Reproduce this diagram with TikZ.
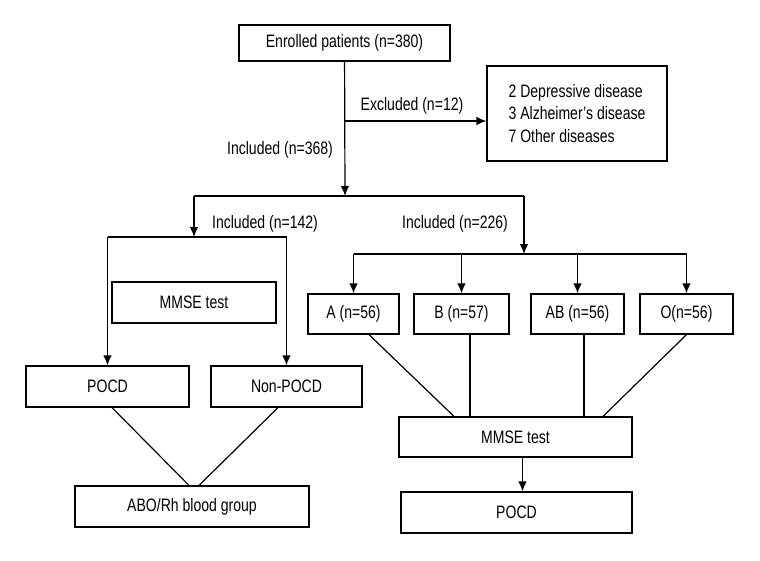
\documentclass[tikz,border=0pt]{standalone}
\usepackage{fontspec}
\setmainfont{Liberation Sans}[FakeStretch=0.78]
\usetikzlibrary{arrows.meta}

\tikzset{
  box/.style={draw, line width=1.2pt, inner sep=2pt, minimum height=41pt, font=\fontsize{18}{22.7}\selectfont},
  label/.style={font=\fontsize{18}{22.7}\selectfont, inner sep=1pt},
  conn/.style={line width=1.2pt},
  arrow/.style={conn, -{Latex[length=10pt,width=8.5pt]}}
}

\begin{document}
\begin{tikzpicture}[x=1pt, y=-1pt]
  \useasboundingbox (0,0) rectangle (760,560);

  % Enrollment and exclusion
  \node[box, minimum width=211pt, minimum height=36pt] (enrolled) at (344.5,43) {Enrolled patients (n=380)};
  \node[box, minimum width=180pt, minimum height=95pt, align=left] (excluded) at (577,113.5) {2 Depressive disease\\3 Alzheimer's disease\\7 Other diseases};

  \coordinate (exc) at (345,121);
  \coordinate (split) at (345,196);
  \coordinate (left) at (194,196);
  \coordinate (right) at (524,196);

  \draw[arrow] (enrolled) -- (split);
  \draw[arrow] (exc) -- (excluded.west |- exc);
  \node[label] (exclabel) at (412,106) {Excluded (n=12)};
  \node[label] (inclabel) at (280,150) {Included (n=368)};
  \draw[conn] (left) -- (right);

  % Left branch (POCD / Non-POCD)
  \node[box, minimum width=164pt] (mmseL) at (194,302.5) {MMSE test};
  \node[box, minimum width=163pt] (pocdL) at (107.5,386.5) {POCD};
  \node[box, minimum width=151pt] (nonpocd) at (286.5,386.5) {Non-POCD};
  \node[box, minimum width=234pt] (abo) at (192,506.5) {ABO/Rh blood group};

  \coordinate (lsplit) at (194,237);
  \draw[arrow] (left) -- (lsplit);
  \node[label] (inc142) at (265,224) {Included (n=142)};
  \draw[conn] (pocdL.north |- lsplit) -- (nonpocd.north |- lsplit);
  \draw[arrow] (pocdL.north |- lsplit) -- (pocdL.north);
  \draw[arrow] (nonpocd.north |- lsplit) -- (nonpocd.north);

  \draw[conn] ([xshift=4.5pt]pocdL.south) -- ([xshift=-3pt]abo.north);
  \draw[conn] ([xshift=-8.5pt]nonpocd.south) -- ([xshift=7pt]abo.north);

  % Right branch (blood groups)
  \node[box, minimum width=91pt, minimum height=40pt] (ga) at (353.5,314) {A (n=56)};
  \node[box, minimum width=95pt, minimum height=40pt] (gb) at (461.5,314) {B (n=57)};
  \node[box, minimum width=93pt, minimum height=40pt] (gab) at (577.5,314) {AB (n=56)};
  \node[box, minimum width=93pt, minimum height=40pt] (go) at (686.5,314) {O(n=56)};
  \node[box, minimum width=233pt, minimum height=40pt] (mmseR) at (515.5,437) {MMSE test};
  \node[box, minimum width=231pt] (pocdR) at (516.5,512.5) {POCD};

  \coordinate (rsplit) at (524,254);
  \draw[arrow] (right) -- (rsplit);
  \node[label] (inc226) at (455,224) {Included (n=226)};
  \draw[conn] (ga.north |- rsplit) -- (go.north |- rsplit);
  \foreach \g in {ga,gb,gab,go}
    \draw[arrow] (\g.north |- rsplit) -- (\g.north);

  \draw[conn] ([xshift=15.5pt]ga.south) -- ([xshift=-61.5pt]mmseR.north);
  \draw[conn] ([xshift=8.5pt]gb.south) -- ([xshift=-45.5pt]mmseR.north);
  \draw[conn] ([xshift=6.5pt]gab.south) -- ([xshift=68.5pt]mmseR.north);
  \draw[conn] (go.south) -- ([xshift=87.5pt]mmseR.north);

  \draw[arrow] ([xshift=7pt]mmseR.south) -- ([xshift=6pt]pocdR.north);

\end{tikzpicture}
\end{document}
